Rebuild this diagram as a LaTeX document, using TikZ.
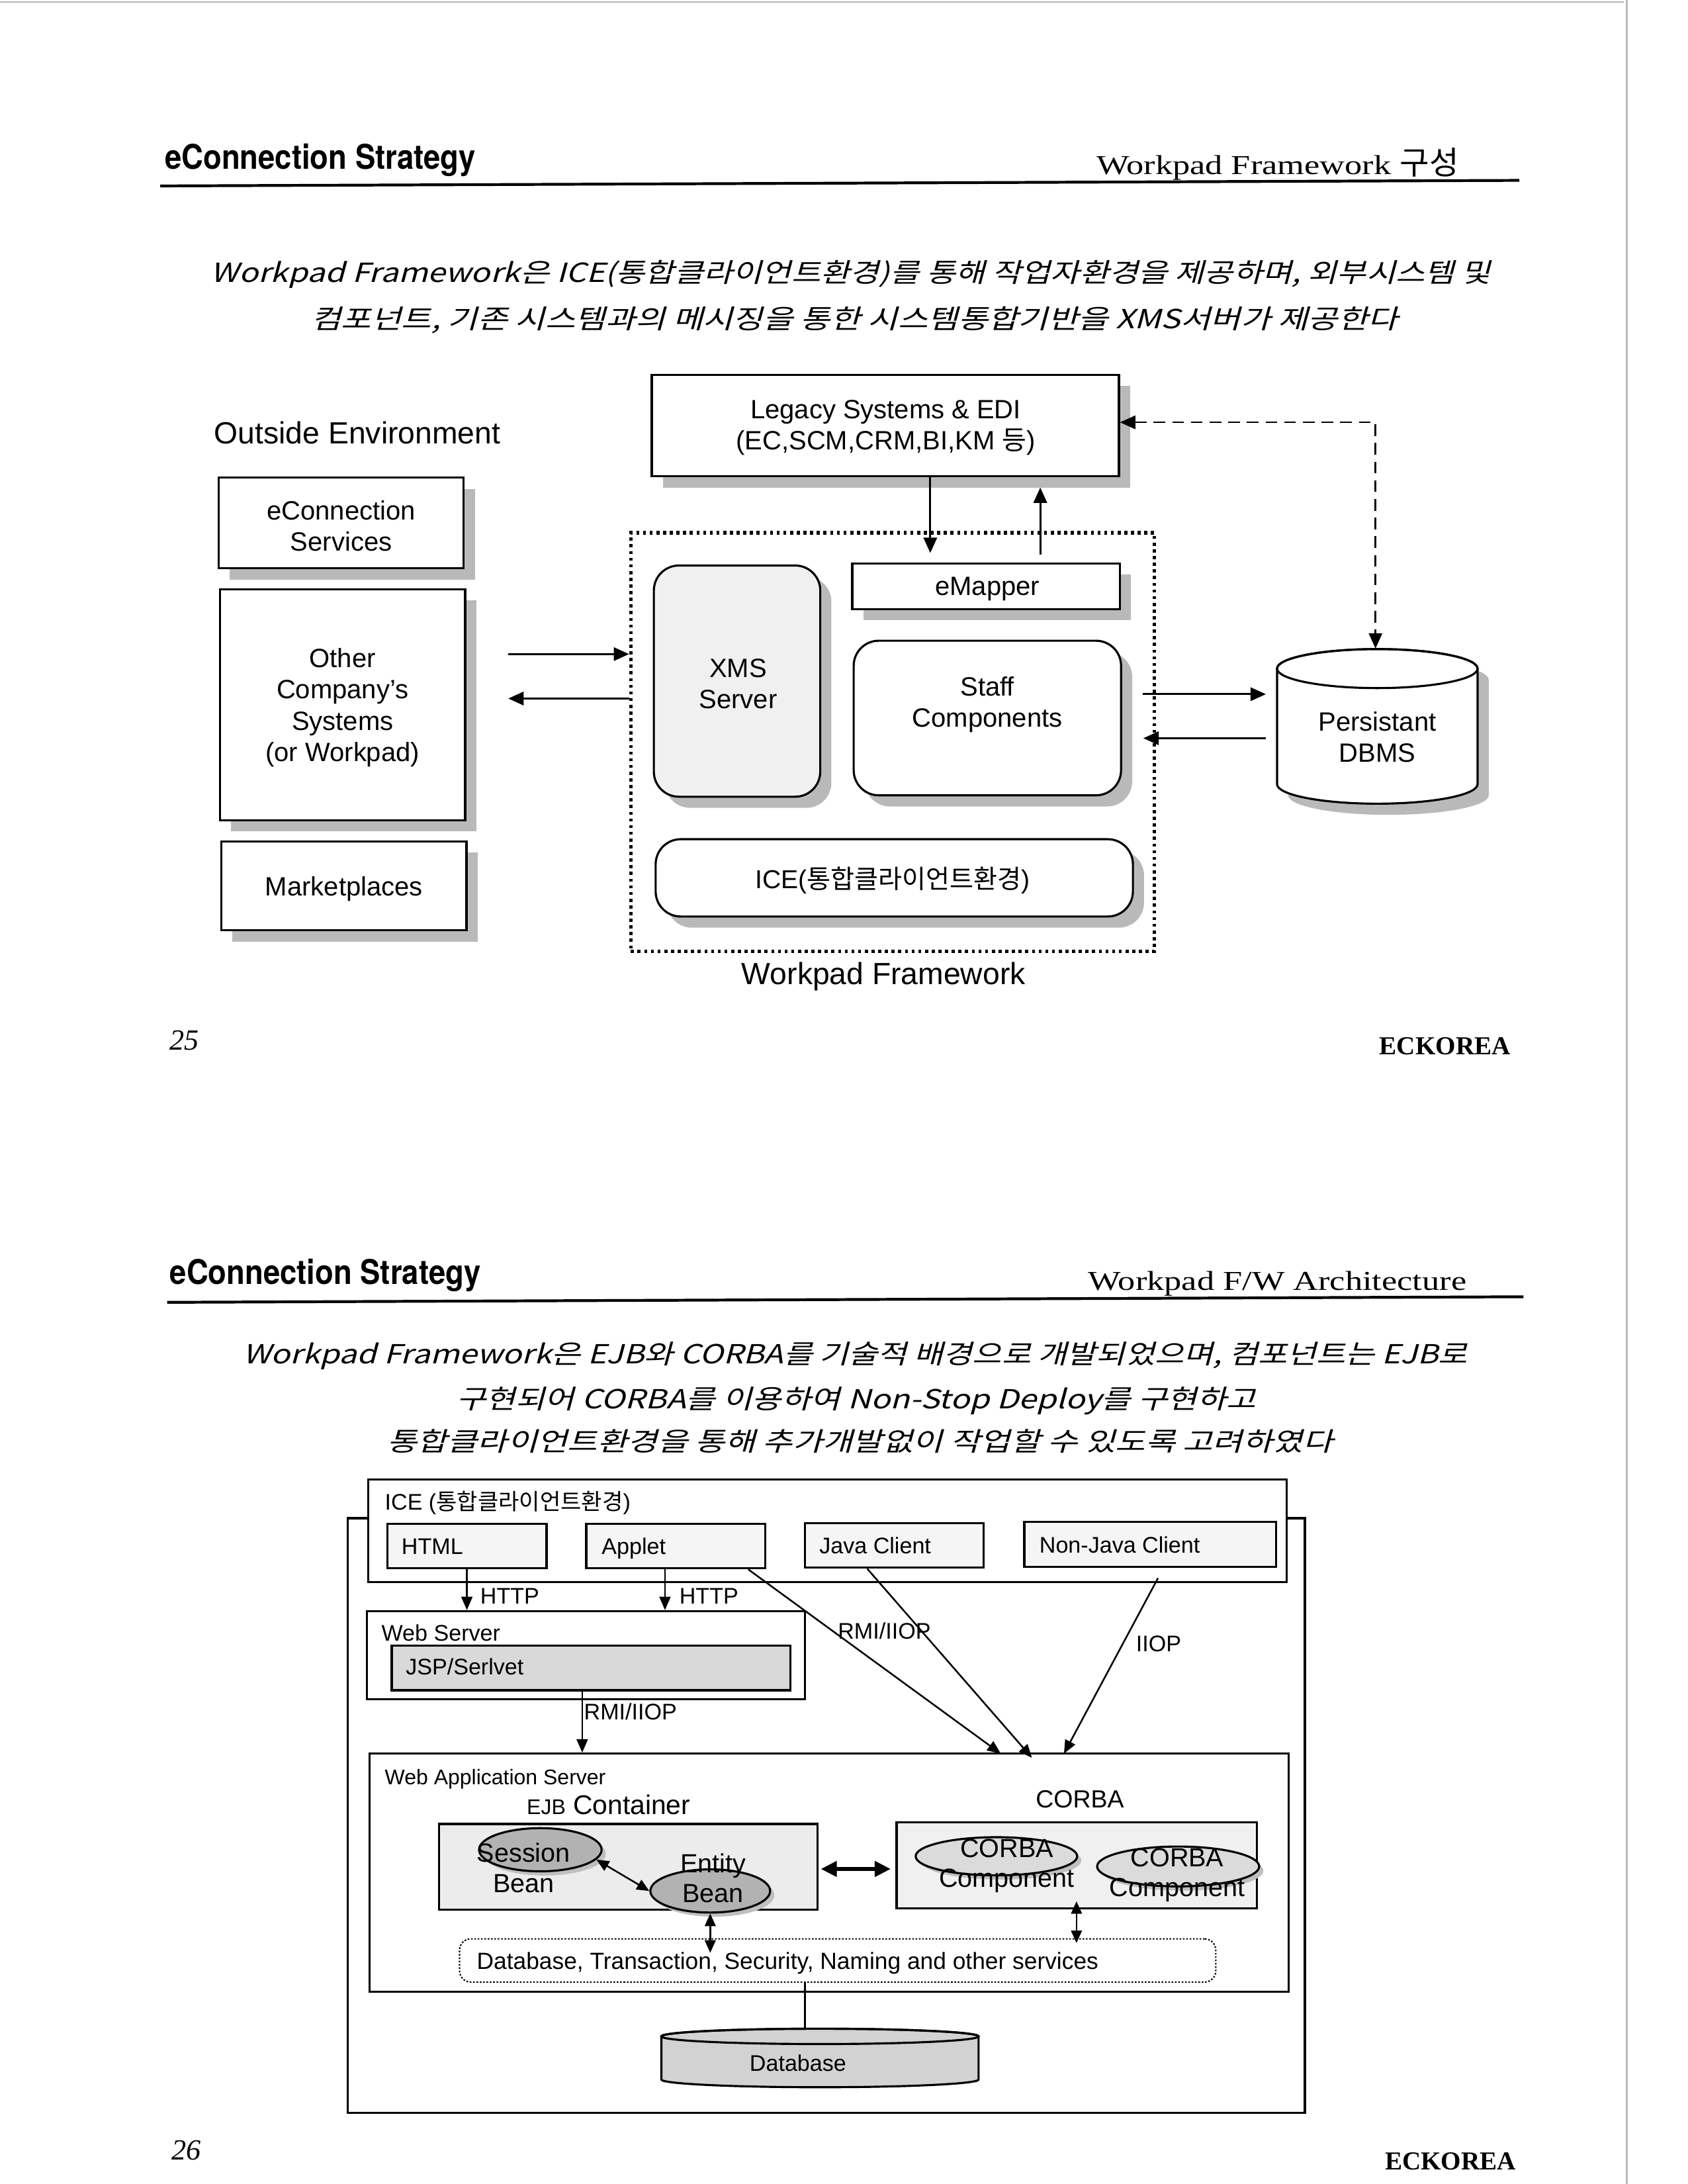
\documentclass[tikz,border=0pt]{standalone}
\usepackage{fontspec}
\usepackage{graphicx}
\usetikzlibrary{arrows.meta,shadows,fit,calc,shapes.geometric}
\setmainfont{Liberation Sans}
\newfontfamily\kr{Noto Sans CJK KR}
\newfontfamily\krit{Noto Sans CJK KR}[FakeSlant=0.22]
\newfontfamily\hdfont{TeX Gyre Heros}[FakeStretch=0.885]
\newfontfamily\serwide{Liberation Serif}[FakeStretch=1.27]
\newfontfamily\serf{Liberation Serif}
\tikzset{
  bx/.style={draw, line width=0.75pt, fill=white, inner sep=0pt},
  shd/.style={drop shadow={shadow xshift=4pt, shadow yshift=-4pt, fill=gray!55, opacity=1}},
  sshd/.style={drop shadow={shadow xshift=1.5pt, shadow yshift=-1.5pt, fill=gray!50, opacity=1}},
  fa/.style={font=\fontsize{9.5}{11.2}\selectfont, align=center, inner sep=0pt},
  fb/.style={font=\fontsize{11}{13}\selectfont},
  fc/.style={font=\fontsize{8.1}{9.5}\selectfont},
  fd/.style={font=\fontsize{9.4}{10.8}\selectfont, align=center, inner sep=0pt},
  lbl/.style={inner sep=0pt},
  arA/.style={-{Triangle[length=5.5pt,width=4.8pt]}, line width=0.7pt},
  arB/.style={-{Triangle[length=4.8pt,width=4pt]}, line width=0.6pt},
  arBB/.style={{Triangle[length=4.5pt,width=3.9pt]}-{Triangle[length=4.5pt,width=3.9pt]}, line width=0.6pt},
  hd/.style={font=\hdfont\bfseries\fontsize{12.2}{14}\selectfont, anchor=base west, inner sep=0pt},
  hr/.style={font=\serwide\fontsize{9.8}{12}\selectfont, anchor=base west, inner sep=0pt},
  client/.style={draw, line width=0.75pt, fill=gray!8, inner sep=0pt},
  plain/.style={draw, line width=0.75pt, fill=white, inner sep=0pt},
  ell/.style={ellipse, draw, line width=0.75pt, inner sep=0pt, sshd},
}
\begin{document}
\begin{tikzpicture}[x=0.5pt,y=-0.5pt]
\useasboundingbox (0,0) rectangle (1212,1568);
\fill[white] (0,0) rectangle (1212,1568);
% scan edges
\draw[gray!60, line width=0.5pt] (0,1.5) -- (1166,1.5);
\draw[gray!55, line width=0.8pt] (1168,0) -- (1168,1568);

% ================= PAGE 25 =================
\node[hd] (h1) at (118,121.5) {eConnection Strategy};
\node[hr] (h1r) at (787,125) {Workpad Framework {\kr\fontsize{11.5}{12}\selectfont 구성}};
\draw[line width=1pt] (115,133.5) -- (1091,129.5);

\node[anchor=base, lbl] (t1a) at (611,202.5) {\resizebox{459.5pt}{7.9pt}{\krit Workpad Framework은 ICE(통합클라이언트환경)를 통해 작업자환경을 제공하며, 외부시스템 및}};
\node[anchor=base, lbl] (t1b) at (613.8,236) {\resizebox{390.3pt}{7.9pt}{\krit 컴포넌트, 기존 시스템과의 메시징을 통한 시스템통합기반을 XMS서버가 제공한다}};

\node[fb, anchor=base west, lbl] (outl) at (153.5,318.5) {Outside Environment};
\node[bx, shd, fit={(468,269)(803.5,342)}] (legacy) {};
\node[fa] (legacyT) at (636,307) {Legacy Systems \& EDI\\(EC,SCM,CRM,BI,KM {\kr 등})};
\node[bx, shd, fit={(157,343)(333,408)}] (econ) {};
\node[fa] (econT) at (245,377.5) {eConnection\\Services};
\node[bx, shd, fit={(158,423)(334,589)}] (other) {};
\node[fa] (otherT) at (246,508) {Other\\Company’s\\Systems\\(or Workpad)};
\node[bx, shd, fit={(159,604)(335,668)}] (market) {};
\node[fa] (marketT) at (247,638) {Marketplaces};

\node[draw, line width=1.3pt, dash pattern=on 1.1pt off 1.3pt, inner sep=0pt, fit={(453,382.5)(829,683)}] (fw) {};
\node[bx, shd, fill=gray!12, rounded corners=9pt, fit={(469.5,406)(589,572)}] (xms) {};
\node[fa] (xmsT) at (530,491) {XMS\\Server};
\node[bx, shd, fit={(612,404.6)(804,437.3)}] (emap) {};
\node[fa] (emapT) at (709,423) {eMapper};
\node[bx, shd, rounded corners=9pt, fit={(613,460)(805,571)}] (staff) {};
\node[fa] (staffT) at (709,506) {Staff\\Components};
\node[bx, shd, rounded corners=9pt, fit={(470.8,602.5)(813.5,658)}] (ice1) {};
\node[fa, font=\fontsize{9.3}{11}\selectfont] (ice1T) at (641,632) {ICE({\kr 통합클라이언트환경})};
\node[fb, anchor=base, lbl] (fwl) at (634.5,707) {Workpad Framework};

% Persistant DBMS cylinder
\begin{scope}[shift={(4pt,-4pt)}]
  \fill[gray!55] (917,480) -- (917,563) arc[start angle=180,end angle=360,x radius=36pt,y radius=7pt] -- (1061,480) arc[start angle=0,end angle=180,x radius=36pt,y radius=7pt] -- cycle;
\end{scope}
\filldraw[fill=white, line width=0.75pt] (917,480) -- (917,563) arc[start angle=180,end angle=360,x radius=36pt,y radius=7pt] -- (1061,480) arc[start angle=0,end angle=180,x radius=36pt,y radius=7pt] -- cycle;
\draw[line width=0.75pt] (989,480) ellipse [x radius=36pt, y radius=7pt];
\node[fit={(917,466)(1061,577)}, inner sep=0pt] (dbms) {};
\node[fa] (dbmsT) at (989,529) {Persistant\\DBMS};

% arrows page 25
\coordinate (oa) at (365,469.6);
\coordinate (ob) at (365,501.5);
\draw[arA] (oa) -- (oa -| fw.west);
\draw[arA] (ob -| fw.west) -- (ob);
\coordinate (da) at (668,397);
\draw[arA] (da |- legacy.south) -- (da);
\coordinate (ua) at (747,398);
\coordinate (ub) at (747,350);
\draw[arA] (ua) -- (ub);
\coordinate (dk) at (987.7,303.2);
\draw[line width=0.6pt, dash pattern=on 4.2pt off 2.5pt, {Triangle[length=5.5pt,width=4.8pt]}-{Triangle[length=5.5pt,width=4.8pt]}] (dk -| legacy.east) -- (dk) -- (dk |- dbms.north);
\coordinate (pa) at (820.5,498.4);
\coordinate (pb) at (909,498.4);
\draw[arA] (pa) -- (pb);
\coordinate (qa) at (909,530);
\coordinate (qb) at (821,530);
\draw[arA] (qa) -- (qb);

\node[anchor=base west, lbl, font=\serf\itshape\fontsize{10.5}{12}\selectfont] (pn25) at (121.6,753.8) {25};
\node[anchor=base east, lbl, font=\serf\bfseries\fontsize{9.3}{11}\selectfont] (eck1) at (1085,757) {ECKOREA};

% ================= PAGE 26 =================
\node[hd] (h2) at (121.6,922) {eConnection Strategy};
\node[hr] (h2r) at (781,926.3) {Workpad F/W Architecture};
\draw[line width=1pt] (120,935) -- (1094,931);

\node[anchor=base, lbl] (t2a) at (614.3,979) {\resizebox{439.5pt}{7.8pt}{\krit Workpad Framework은 EJB와 CORBA를 기술적 배경으로 개발되었으며, 컴포넌트는 EJB로}};
\node[anchor=base, lbl] (t2b) at (615,1011.2) {\resizebox{287pt}{7.8pt}{\krit 구현되어 CORBA를 이용하여 Non-Stop Deploy를 구현하고}};
\node[anchor=base, lbl] (t2c) at (617.7,1041.8) {\resizebox{339.6pt}{7.8pt}{\krit 통합클라이언트환경을 통해 추가개발없이 작업할 수 있도록 고려하였다}};

\node[draw, line width=0.75pt, inner sep=0pt, fit={(249.5,1090)(937,1517)}] (outer) {};
\node[plain, fit={(264.5,1062)(924,1136)}] (ice2) {};
\node[fc, anchor=base west, lbl] (ice2l) at (276,1084) {ICE ({\kr 통합클라이언트환경})};

\node[client, fit={(278,1094)(392.5,1126)}] (html) {};
\node[fc, anchor=base west, lbl] (htmlT) at (288,1116) {HTML};
\node[client, fit={(421,1094)(549.6,1126)}] (applet) {};
\node[fc, anchor=base west, lbl] (appletT) at (431.7,1116) {Applet};
\node[client, fit={(578,1093.5)(706.5,1125.5)}] (java) {};
\node[fc, anchor=base west, lbl] (javaT) at (588,1115.5) {Java Client};
\node[client, fit={(735.5,1092.4)(916.3,1125)}] (nonjava) {};
\node[fc, anchor=base west, lbl] (nonjavaT) at (746,1115) {Non-Java Client};

\node[plain, fit={(263.6,1156.7)(578,1219.8)}] (web) {};
\node[fc, anchor=base west, lbl] (webl) at (273.6,1178) {Web Server};
\node[draw, line width=0.75pt, fill=gray!30, inner sep=0pt, fit={(281.3,1181.3)(567.5,1213.5)}] (jsp) {};
\node[fc, anchor=base west, lbl] (jspl) at (291,1202.5) {JSP/Serlvet};

\node[draw, line width=0.75pt, inner sep=0pt, fit={(265.5,1259)(925.5,1430)}] (was) {};
\node[font=\fontsize{7.6}{9}\selectfont, anchor=base west, lbl] (wasl) at (276,1281) {Web Application Server};

% HTTP and RMI arrows
\coordinate (ap1) at ($(applet.south west)!0.44!(applet.south east)$);
\draw[arB] (html.south) -- (html.south |- web.north);
\draw[arB] (ap1) -- (ap1 |- web.north);
\node[fc, anchor=west, lbl] (http1) at (344.5,1146) {HTTP};
\node[fc, anchor=west, lbl] (http2) at (487.5,1146) {HTTP};
\coordinate (r1) at ($(jsp.south west)!0.478!(jsp.south east)$);
\draw[arB] (r1) -- (r1 |- was.north);
\node[fc, anchor=west, lbl] (rmi1) at (419,1229) {RMI/IIOP};

\coordinate (s1) at ($(applet.south west)!0.9!(applet.south east)$);
\coordinate (s2) at ($(java.south west)!0.35!(java.south east)$);
\coordinate (s3) at (831.5,1133);
\coordinate (e1) at (718.6,1259);
\coordinate (e2) at (741,1262);
\coordinate (e3) at (764,1259);
\draw[arB] (s1) -- (e1);
\draw[arB] (s2) -- (e2);
\draw[arB] (s3) -- (e3);
\node[fc, lbl] (rmi2) at (635,1171) {RMI/IIOP};
\node[fc, lbl] (iiop) at (832,1180) {IIOP};

% EJB container
\node[anchor=base, lbl, font=\fontsize{9.7}{11}\selectfont] (ejbl) at (437,1302.5) {{\fontsize{7.6}{9}\selectfont EJB} Container};
\node[draw, line width=0.75pt, fill=gray!15, inner sep=0pt, fit={(315.4,1309.5)(587,1371)}] (ejb) {};
\node[ell, fill=gray!60, minimum width=44pt, minimum height=15.5pt] (sess) at (388,1328) {};
\node[ell, fill=gray!60, minimum width=43pt, minimum height=15.5pt] (ent) at (510,1357.6) {};
\node[fd] (sessT) at (376,1341) {Session\\Bean};
\node[fd] (entT) at (512,1348.5) {Entity\\Bean};
\draw[arBB] (sess.-10) -- (ent.west);

% CORBA
\node[font=\fontsize{8.9}{10}\selectfont, lbl] (corbal) at (775.4,1291.7) {CORBA};
\node[draw, line width=0.75pt, fill=gray!12, inner sep=0pt, fit={(643.8,1308.5)(902.7,1370)}] (corba) {};
\node[ell, fill=gray!28, minimum width=58pt, minimum height=13.7pt] (c1) at (715.5,1332.7) {};
\node[ell, fill=gray!28, minimum width=58.2pt, minimum height=14.3pt] (c2) at (846,1340) {};
\node[fd] (c1T) at (723,1339.5) {CORBA\\Component};
\node[fd] (c2T) at (845.3,1346.2) {CORBA\\Component};

\coordinate (m1) at (589.5,1341.8);
\coordinate (m2) at (639.5,1341.8);
\draw[{Triangle[length=5.7pt,width=5.5pt]}-{Triangle[length=5.7pt,width=5.5pt]}, line width=1.2pt] (m1) -- (m2);

% services
\node[draw, line width=0.5pt, dash pattern=on 0.6pt off 0.6pt, rounded corners=4pt, inner sep=0pt, fit={(330,1392)(873,1423)}] (svc) {};
\node[font=\fontsize{8.4}{10}\selectfont, anchor=base west, lbl] (svcT) at (342,1414) {Database, Transaction, Security, Naming and other services};
\coordinate (v1) at (510,1402);
\draw[arBB] (ent.south) -- (v1);
\coordinate (v2a) at (773,1365);
\coordinate (v2b) at (773,1395);
\draw[arBB] (v2a) -- (v2b);

% Database cylinder
\filldraw[fill=gray!35, line width=0.75pt] (474.9,1462) -- (474.9,1493) arc[start angle=180,end angle=360,x radius=56.95pt,y radius=2.75pt] -- (702.7,1462) arc[start angle=0,end angle=180,x radius=56.95pt,y radius=2.75pt] -- cycle;
\draw[line width=0.75pt] (588.8,1462) ellipse [x radius=56.95pt, y radius=2.75pt];
\node[fit={(474.9,1456.5)(702.7,1498.5)}, inner sep=0pt] (db) {};
\node[font=\fontsize{8.1}{10}\selectfont, lbl] (dbT) at (573,1481) {Database};
\coordinate (lk) at (578,1440);
\draw[line width=0.6pt] (lk |- svc.south) -- (lk |- db.north);

\node[anchor=base west, lbl, font=\serf\itshape\fontsize{10.5}{12}\selectfont] (pn26) at (122.8,1550.4) {26};
\node[anchor=base east, lbl, font=\serf\bfseries\fontsize{9.3}{11}\selectfont] (eck2) at (1089,1558) {ECKOREA};
\end{tikzpicture}
\end{document}
